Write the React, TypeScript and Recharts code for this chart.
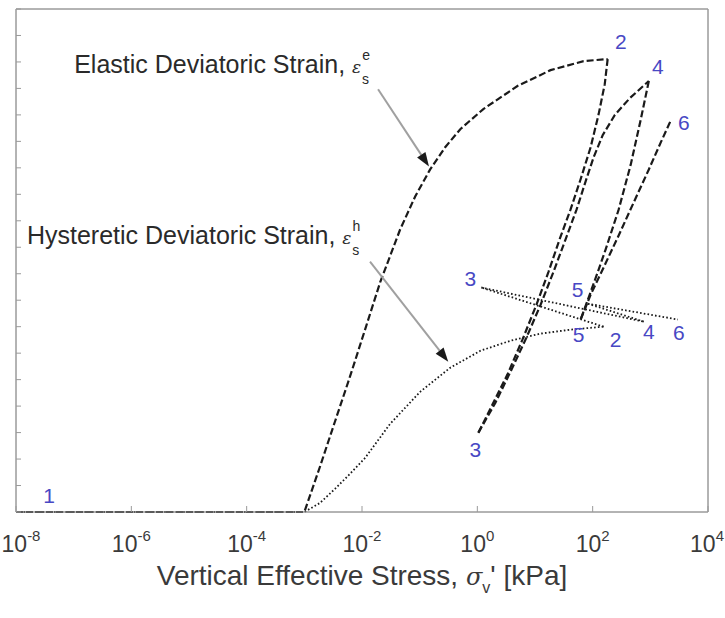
import React from 'react';
import { ComposedChart, Line, XAxis, YAxis, Scatter, ReferenceLine, ReferenceArea } from 'recharts';

if (typeof document !== 'undefined') {
  document.body.style.margin = '0';
}

const FONT = "'Liberation Sans', Arial, Helvetica, sans-serif";

// x ticks (vertical effective stress, kPa) and exponent labels
const xTicks = [1e-8, 1e-6, 1e-4, 1e-2, 1, 1e2, 1e4];
const xTickExponents = ['-8', '-6', '-4', '-2', '0', '2', '4'];
// y ticks (no labels)
const yTicks = [0, 1, 2, 3, 4, 5, 6, 7, 8, 9, 10, 11, 12, 13, 14, 15, 16, 17, 18, 19];

// Elastic deviatoric strain path 1-2-3-4-5-6
const elastic12 = [
  { x: 1e-8, y: 0 }, { x: 1e-3, y: 0 }, { x: 1.86e-3, y: 1.7 }, { x: 3.39e-3, y: 3.41 },
  { x: 6.18e-3, y: 5.11 }, { x: 0.0113, y: 6.89 }, { x: 0.0206, y: 8.67 }, { x: 0.0458, y: 10.67 },
  { x: 0.0836, y: 11.92 }, { x: 0.152, y: 12.94 }, { x: 0.277, y: 13.78 }, { x: 0.506, y: 14.46 },
  { x: 1.27, y: 15.22 }, { x: 4.96, y: 16.09 }, { x: 18.6, y: 16.69 }, { x: 69.7, y: 17.03 },
  { x: 182, y: 17.11 },
];
const elastic23 = [
  { x: 182, y: 17.11 }, { x: 162, y: 16.16 }, { x: 127, y: 15.03 }, { x: 92.3, y: 13.78 },
  { x: 61.8, y: 12.57 }, { x: 41.4, y: 11.43 }, { x: 26.7, y: 10.3 }, { x: 17.2, y: 9.08 },
  { x: 10.6, y: 7.83 }, { x: 6.06, y: 6.51 }, { x: 3.32, y: 5.19 }, { x: 1.82, y: 4.05 },
  { x: 1.04, y: 2.99 },
];
const elastic34 = [
  { x: 1.04, y: 2.99 }, { x: 2.06, y: 4.13 }, { x: 3.9, y: 5.37 }, { x: 7.11, y: 6.59 },
  { x: 12.5, y: 7.83 }, { x: 21.0, y: 9.08 }, { x: 33.9, y: 10.3 }, { x: 52.7, y: 11.43 },
  { x: 75.5, y: 12.49 }, { x: 104, y: 13.4 }, { x: 149, y: 14.23 }, { x: 241, y: 14.99 },
  { x: 440, y: 15.63 }, { x: 942, y: 16.28 },
];
const elastic45 = [
  { x: 942, y: 16.28 }, { x: 684, y: 14.84 }, { x: 458, y: 13.13 }, { x: 283, y: 11.43 },
  { x: 168, y: 9.92 }, { x: 122, y: 9.05 }, { x: 85.1, y: 8.1 }, { x: 61.8, y: 7.27 },
];
const elastic56 = [
  { x: 61.8, y: 7.27 }, { x: 92.3, y: 8.21 }, { x: 155, y: 9.24 }, { x: 272, y: 10.37 },
  { x: 497, y: 11.62 }, { x: 942, y: 12.94 }, { x: 1524, y: 13.97 }, { x: 2275, y: 14.8 },
];

// Hysteretic deviatoric strain path
const hyst12 = [
  { x: 1e-8, y: 0 }, { x: 1e-3, y: 0 }, { x: 1.86e-3, y: 0.34 }, { x: 3.39e-3, y: 0.87 },
  { x: 6.18e-3, y: 1.44 }, { x: 0.0113, y: 2.04 }, { x: 0.0307, y: 3.33 }, { x: 0.102, y: 4.54 },
  { x: 0.339, y: 5.45 }, { x: 1.13, y: 6.09 }, { x: 3.75, y: 6.47 }, { x: 12.5, y: 6.74 },
  { x: 41.4, y: 6.89 }, { x: 155, y: 7.0 },
];
const hyst23 = [{ x: 155, y: 7.0 }, { x: 1.17, y: 8.48 }];
const hyst34 = [{ x: 1.17, y: 8.48 }, { x: 771, y: 7.19 }];
const hyst45 = [{ x: 771, y: 7.19 }, { x: 81.8, y: 7.87 }];
const hyst56 = [{ x: 81.8, y: 7.87 }, { x: 3010, y: 7.27 }];

// state number labels
const stateLabels = [
  { x: 3.75e-8, y: 0.64, t: '1' },
  { x: 307, y: 17.79, t: '2' },
  { x: 1349, y: 16.81, t: '4' },
  { x: 3828, y: 14.72, t: '6' },
  { x: 0.755, y: 8.82, t: '3' },
  { x: 54.8, y: 8.4, t: '5' },
  { x: 57.1, y: 6.7, t: '5' },
  { x: 251, y: 6.51, t: '2' },
  { x: 942, y: 6.81, t: '4' },
  { x: 3133, y: 6.78, t: '6' },
  { x: 0.923, y: 2.35, t: '3' },
];

// annotations
const elasticNote = [{ x: 1.02e-7, y: 16.58, t: 'Elastic Deviatoric Strain, ', sup: 'e' }];
const hystNote = [{ x: 1.55e-8, y: 10.14, t: 'Hysteretic Deviatoric Strain, ', sup: 'h' }];
const elasticArrow = [{ x: 0.019, y: 15.97 }, { x: 0.145, y: 13.05 }];
const hystArrow = [{ x: 0.01377, y: 9.46 }, { x: 0.313, y: 5.68 }];

const FRAME = '#9a9a9a';

const BottomTick = (props: any) => {
  const { x, y, index } = props;
  const last = xTickExponents.length - 1;
  const shift = index === 0 ? 5 : index === last ? -1 : 0;
  return (
    <g>
      <line x1={x} y1={y} x2={x} y2={y - 6} stroke={FRAME} />
      <text x={x + shift} y={y + 40} textAnchor="middle" fontSize={23} fill="#3a3a3a" fontFamily={FONT}>
        10<tspan dy={-11} fontSize={15}>{xTickExponents[index]}</tspan>
      </text>
    </g>
  );
};

const StateLabel = (props: any) => {
  const { cx, cy, payload } = props;
  return (
    <text x={cx} y={cy} textAnchor="middle" dominantBaseline="central" fontSize={21} fill="#4848c4" fontFamily={FONT}>
      {payload.t}
    </text>
  );
};

const NoteText = (props: any) => {
  const { cx, cy, payload } = props;
  return (
    <text x={cx} y={cy} fontSize={25} fill="#2a2a2a" fontFamily={FONT}>
      {payload.t}
      <tspan fontFamily="'DejaVu Serif', serif" fontStyle="italic" fontSize={17}>ε</tspan>
      <tspan fontSize={14} dy={-13} dx={1}>{payload.sup}</tspan>
      <tspan fontSize={14} dx={-8} dy={24}>s</tspan>
    </text>
  );
};

const ArrowShape = (props: any) => {
  const { x1, y1, x2, y2 } = props;
  const ang = Math.atan2(y2 - y1, x2 - x1);
  const L = 14;
  const W = 5;
  const c = Math.cos(ang);
  const s = Math.sin(ang);
  const bx = x2 - L * c;
  const by = y2 - L * s;
  const pts = `${x2},${y2} ${bx - W * s},${by + W * c} ${bx + W * s},${by - W * c}`;
  return (
    <g>
      <line x1={x1} y1={y1} x2={bx} y2={by} stroke="#a0a0a0" strokeWidth={2} />
      <polygon points={pts} fill="#1a1a1a" />
    </g>
  );
};

const TitleLabel = (props: any) => {
  const vb = props.viewBox || {};
  const cx = (vb.x || 0) + (vb.width || 0) / 2;
  const y = (vb.y || 0) + 73;
  return (
    <text x={cx} y={y} textAnchor="middle" fontSize={28} fill="#3a3a3a" fontFamily={FONT}>
      Vertical Effective Stress,{' '}
      <tspan fontFamily="'DejaVu Serif', serif" fontStyle="italic" fontSize={24}>σ</tspan>
      <tspan fontSize={16} dy={8}>v</tspan>
      <tspan dy={-8}>' [kPa]</tspan>
    </text>
  );
};

const DASH = '7 3';
const DOT = '1.6 2.2';

export default function App() {
  return (
    <ComposedChart width={725} height={618} margin={{ top: 9, right: 17, bottom: 46, left: 16 }}>
      <XAxis
        dataKey="x"
        type="number"
        scale="log"
        domain={[1e-8, 1e4]}
        ticks={xTicks}
        interval={0}
        height={60}
        tickSize={0}
        tickMargin={0}
        tickLine={false}
        axisLine={{ stroke: FRAME }}
        tick={<BottomTick />}
        label={{ content: (p: any) => <TitleLabel {...p} /> }}
      />
      <XAxis
        xAxisId="top"
        orientation="top"
        dataKey="x"
        type="number"
        scale="log"
        domain={[1e-8, 1e4]}
        ticks={xTicks}
        interval={0}
        mirror
        height={1}
        tickSize={6}
        tickFormatter={() => ''}
        tickLine={{ stroke: FRAME }}
        axisLine={{ stroke: FRAME }}
      />
      <YAxis
        type="number"
        domain={[0, 19]}
        ticks={yTicks}
        interval={0}
        mirror
        width={1}
        tickSize={5}
        tickFormatter={() => ''}
        tickLine={{ stroke: FRAME }}
        axisLine={{ stroke: FRAME }}
      />
      <YAxis
        yAxisId="right"
        orientation="right"
        type="number"
        domain={[0, 19]}
        ticks={yTicks}
        interval={0}
        mirror
        width={1}
        tickSize={5}
        tickFormatter={() => ''}
        tickLine={{ stroke: FRAME }}
        axisLine={{ stroke: FRAME }}
      />

      <ReferenceArea x1={1e-8} x2={1e4} y1={0} y2={19} fill="none" stroke={FRAME} strokeWidth={1} ifOverflow="visible" />

      <Line data={hyst12} dataKey="y" stroke="#1a1a1a" strokeWidth={1.8} strokeDasharray={DOT} dot={false} activeDot={false} isAnimationActive={false} />
      <Line data={hyst23} dataKey="y" stroke="#1a1a1a" strokeWidth={1.8} strokeDasharray={DOT} dot={false} activeDot={false} isAnimationActive={false} />
      <Line data={hyst34} dataKey="y" stroke="#1a1a1a" strokeWidth={1.8} strokeDasharray={DOT} dot={false} activeDot={false} isAnimationActive={false} />
      <Line data={hyst45} dataKey="y" stroke="#1a1a1a" strokeWidth={1.8} strokeDasharray={DOT} dot={false} activeDot={false} isAnimationActive={false} />
      <Line data={hyst56} dataKey="y" stroke="#1a1a1a" strokeWidth={1.8} strokeDasharray={DOT} dot={false} activeDot={false} isAnimationActive={false} />

      <Line data={elastic12} dataKey="y" stroke="#1a1a1a" strokeWidth={2.2} strokeDasharray={DASH} dot={false} activeDot={false} isAnimationActive={false} />
      <Line data={elastic23} dataKey="y" stroke="#1a1a1a" strokeWidth={2.2} strokeDasharray={DASH} dot={false} activeDot={false} isAnimationActive={false} />
      <Line data={elastic34} dataKey="y" stroke="#1a1a1a" strokeWidth={2.2} strokeDasharray={DASH} dot={false} activeDot={false} isAnimationActive={false} />
      <Line data={elastic45} dataKey="y" stroke="#1a1a1a" strokeWidth={2.2} strokeDasharray={DASH} dot={false} activeDot={false} isAnimationActive={false} />
      <Line data={elastic56} dataKey="y" stroke="#1a1a1a" strokeWidth={2.2} strokeDasharray={DASH} dot={false} activeDot={false} isAnimationActive={false} />

      <ReferenceLine segment={elasticArrow} shape={ArrowShape} ifOverflow="visible" />
      <ReferenceLine segment={hystArrow} shape={ArrowShape} ifOverflow="visible" />

      <Scatter data={elasticNote} dataKey="y" shape={NoteText} isAnimationActive={false} />
      <Scatter data={hystNote} dataKey="y" shape={NoteText} isAnimationActive={false} />
      <Scatter data={stateLabels} dataKey="y" shape={StateLabel} isAnimationActive={false} />
    </ComposedChart>
  );
}
